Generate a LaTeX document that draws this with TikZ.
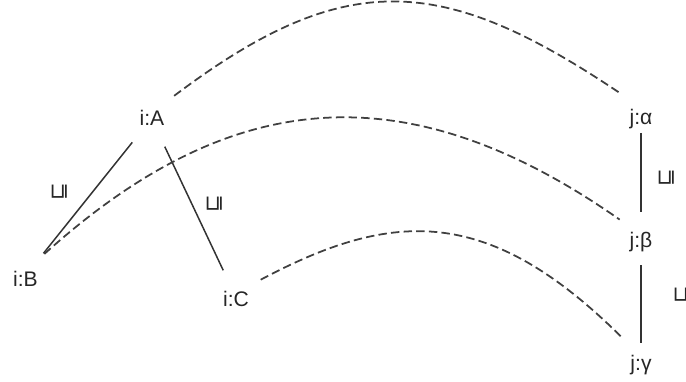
\documentclass[tikz,border=0pt]{standalone}
\usepackage{fontspec}
\setmainfont{Liberation Sans}
\newfontfamily\leqfont{DejaVu Sans}
\usetikzlibrary{arrows.meta,positioning}
\newcommand{\rleq}{\rotatebox{90}{\leqfont ⊑}}

\begin{document}
\begin{tikzpicture}[x=1cm,y=1cm]
\tikzset{
  elemnode/.style={circle,minimum size=12.4mm,inner sep=0pt,text=black!85,font=\fontsize{12}{14}\selectfont},
  orderlabel/.style={inner sep=0pt,text=black!85,font=\fontsize{12}{14}\selectfont},
  order/.style={line width=0.85pt,draw=black!80},
  mapping/.style={line width=1pt,draw=black!75,dash pattern=on 4.8pt off 2.4pt}
}
\useasboundingbox (0,0) rectangle (13.72,7.62);
\node[elemnode] (n_iA) at (3.04,5.26) {i:A};
\node[elemnode] (n_iB) at (0.51,2.04) {i:B};
\node[elemnode] (n_iC) at (4.72,1.64) {i:C};
\node[elemnode] (n_ja) at (12.82,5.24) {j:α};
\node[elemnode] (n_jb) at (12.82,2.77) {j:β};
\node[elemnode] (n_jg) at (12.82,0.32) {j:γ};
\node[orderlabel] (n_lAB) at (1.20,3.78) {\rleq};
\node[orderlabel] (n_lAC) at (4.30,3.54) {\rleq};
\node[orderlabel] (n_lab) at (13.34,4.06) {\rleq};
\node[orderlabel] (n_lbg) at (13.66,1.72) {\rleq};
\draw[order] (n_iA.231) -- (n_iB.55);
\draw[order] (n_iA.294) -- (n_iC.114);
\draw[order,shorten <=2.8mm,shorten >=6.1mm] (n_ja.center) -- (n_jb.center);
\draw[order,shorten <=4.5mm,shorten >=4.4mm] (n_jb.center) -- (n_jg.center);
\draw[mapping] (n_iA.45) to[out=37,in=146,out distance=4.3cm,in distance=4.3cm] (n_ja.128);
\draw[mapping] (n_iB.53) to[out=42,in=145,out distance=4.8cm,in distance=5.4cm] (n_jb.133);
\draw[mapping] (n_iC.38) to[out=28,in=135,out distance=3.0cm,in distance=3.8cm] (n_jg.124);
\end{tikzpicture}
\end{document}
